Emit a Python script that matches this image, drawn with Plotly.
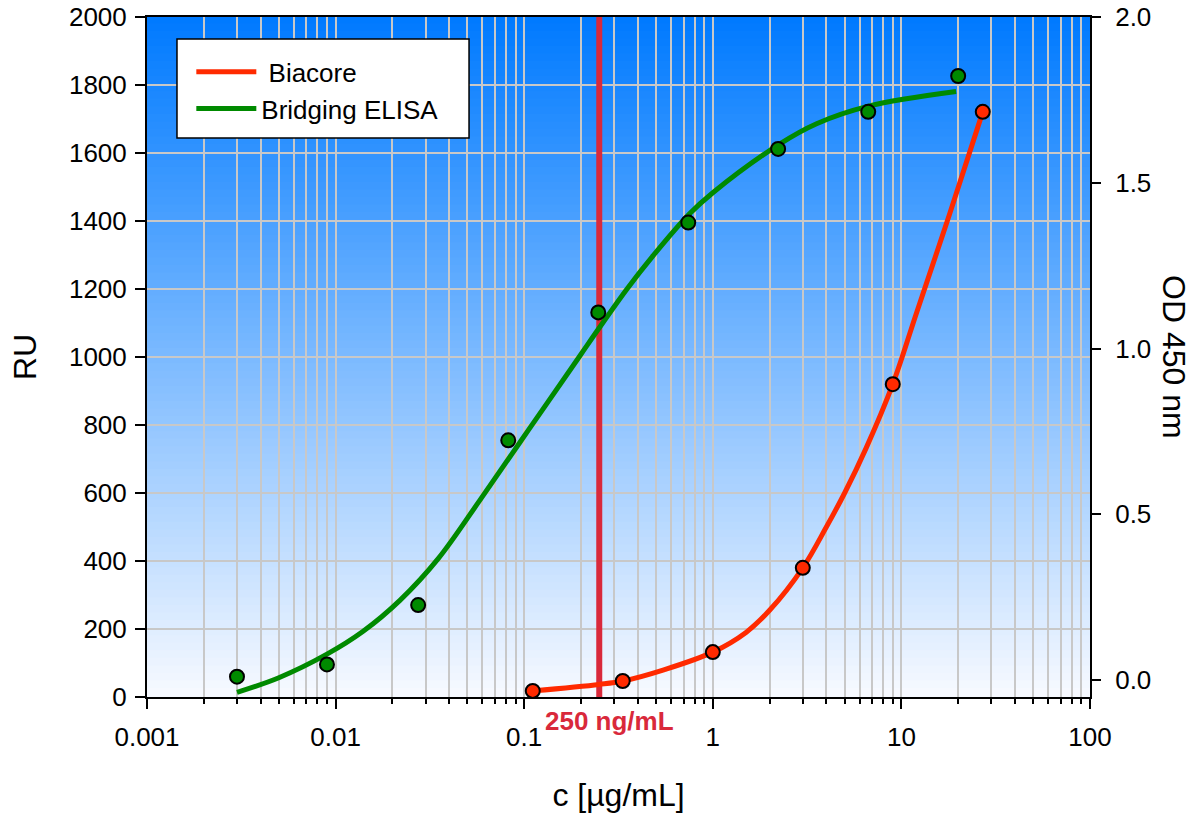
import math
import plotly.graph_objects as go

# ---------------- data ----------------
biacore_conc = [0.111, 0.333, 1.0, 3.0, 9.0, 27.0]
biacore_ru = [18, 47, 132, 380, 920, 1721]
biacore_fit_conc = [0.111, 0.25, 0.333, 0.55, 1.0, 1.5, 2.0, 3.0, 4.0, 5.0, 6.5, 9.0, 12.0, 18.0, 27.0]
biacore_fit_ru = [18, 37, 47, 80, 132, 190, 255, 380, 500, 600, 732, 920, 1128, 1420, 1721]

elisa_conc = [0.003, 0.009, 0.0274, 0.0823, 0.247, 0.741, 2.22, 6.67, 20.0]
elisa_od = [0.010, 0.047, 0.226, 0.723, 1.109, 1.380, 1.602, 1.714, 1.822]
elisa_fit_conc = [0.003, 0.005, 0.009, 0.014, 0.022, 0.035, 0.058, 0.105, 0.198, 0.247,
                  0.35, 0.484, 0.748, 1.0, 2.236, 3.55, 6.7, 19.5]
elisa_fit_od = [-0.037, 0.007, 0.078, 0.147, 0.241, 0.366, 0.541, 0.753, 0.979, 1.058,
                1.179, 1.281, 1.405, 1.470, 1.615, 1.678, 1.731, 1.775]

lod_conc = 0.25
lod_label = "250 ng/mL"

x_tickvals = [0.001, 0.01, 0.1, 1, 10, 100]
x_ticktext = ["0.001", "0.01", "0.1", "1", "10", "100"]
od_tickvals = [0.0, 0.5, 1.0, 1.5, 2.0]
od_ticktext = ["0.0", "0.5", "1.0", "1.5", "2.0"]

RED = "#ff2a00"
GREEN = "#008a00"
CRIMSON = "#d9293b"
GRID = "#c8c8c8"
FONT = "Liberation Sans, Arial, sans-serif"

fig = go.Figure()

# LOD vertical line
fig.add_trace(go.Scatter(x=[lod_conc, lod_conc], y=[0, 2000], mode="lines",
                         line=dict(color=CRIMSON, width=6), showlegend=False,
                         hoverinfo="skip"))

# Biacore
fig.add_trace(go.Scatter(x=biacore_fit_conc, y=biacore_fit_ru, mode="lines",
                         name=" Biacore", line=dict(color=RED, width=5, shape="spline", smoothing=1.0)))
fig.add_trace(go.Scatter(x=biacore_conc, y=biacore_ru, mode="markers", showlegend=False,
                         marker=dict(color=RED, size=14, line=dict(color="black", width=2))))

# Bridging ELISA (right axis)
fig.add_trace(go.Scatter(x=elisa_fit_conc, y=elisa_fit_od, mode="lines", yaxis="y2",
                         name="Bridging ELISA", line=dict(color=GREEN, width=5, shape="spline", smoothing=1.0)))
fig.add_trace(go.Scatter(x=elisa_conc, y=elisa_od, mode="markers", yaxis="y2", showlegend=False,
                         marker=dict(color=GREEN, size=14, line=dict(color="black", width=2))))

# gradient background strips
N = 90
top = (0, 122, 255)
bot = (246, 249, 255)
shapes = []
for i in range(N):
    t = i / (N - 1)
    c = tuple(round(top[k] + (bot[k] - top[k]) * t) for k in range(3))
    shapes.append(dict(type="rect", xref="x domain", yref="y domain",
                       x0=0, x1=1, y0=1 - (i + 1) / N, y1=min(1, 1 - i / N + 0.002),
                       fillcolor="rgb(%d,%d,%d)" % c, line=dict(width=0), layer="below"))

# legend frame (white box with black border) behind the legend entries
shapes.append(dict(type="rect", xref="paper", yref="paper", x0=0.0318, x1=0.3415,
                   y0=0.822, y1=0.9676, fillcolor="white",
                   line=dict(color="black", width=1.5), layer="above"))

minor_vals = [m * 10 ** e for e in range(-3, 2) for m in range(2, 10)]

fig.update_layout(
    width=1192, height=813,
    margin=dict(l=147, r=102, t=17, b=116, autoexpand=False),
    paper_bgcolor="white", plot_bgcolor="white",
    font=dict(family=FONT, color="black", size=26),
    shapes=shapes,
    showlegend=True,
    legend=dict(x=0.0470, y=0.954, xanchor="left", yanchor="top",
                bgcolor="rgba(0,0,0,0)", borderwidth=0,
                font=dict(size=26, family=FONT), traceorder="normal",
                itemwidth=60, tracegroupgap=0),
    xaxis=dict(type="log", range=[-3, 2], tickvals=x_tickvals, ticktext=x_ticktext,
               automargin=False, ticklabeloverflow="allow",
               ticks="outside", ticklen=10, tickwidth=1.5, tickcolor="black",
               ticklabelstandoff=6,
               showline=True, linecolor="black", linewidth=2, mirror=True,
               showgrid=True, gridcolor=GRID, gridwidth=1.5,
               minor=dict(tickvals=minor_vals, ticks="outside", ticklen=5, tickwidth=1.5,
                          tickcolor="black", showgrid=True, gridcolor=GRID, gridwidth=1.5),
               tickfont=dict(size=26),
               title=dict(text="c [µg/mL]", font=dict(size=32), standoff=33)),
    yaxis=dict(range=[0, 2000], dtick=200, ticks="outside", ticklen=10, tickwidth=1.5,
               automargin=False, ticklabelstandoff=3, ticklabeloverflow="allow",
               tickcolor="black", showline=True, linecolor="black", linewidth=2,
               showgrid=True, gridcolor=GRID, gridwidth=1.5, zeroline=False,
               tickfont=dict(size=26),
               title=dict(text="RU", font=dict(size=32), standoff=23)),
    yaxis2=dict(overlaying="y", side="right", range=[-0.0512, 2.0], automargin=False,
                tickvals=od_tickvals, ticktext=od_ticktext, ticks="outside", ticklen=9,
                ticklabelstandoff=9, ticklabeloverflow="allow",
                tickwidth=1.5, tickcolor="black", showline=True, linecolor="black", linewidth=2,
                showgrid=False, zeroline=False, tickfont=dict(size=26)),
    annotations=[
        dict(text="OD 450 nm", xref="paper", yref="paper", x=1.089, y=0.5,
             textangle=90, showarrow=False, font=dict(size=32), xanchor="center", yanchor="middle"),
        dict(text="<b>%s</b>" % lod_label, xref="x", yref="y", x=math.log10(lod_conc), y=0,
             xshift=10, yshift=-7, yanchor="top", showarrow=False,
             font=dict(size=26, color=CRIMSON)),
    ],
)

# remove the default 8px page margin so the 1192x813 figure fills the window exactly
fig.write_html("out.html", config={"displayModeBar": False},
               post_script="document.body.style.margin='0px';")
